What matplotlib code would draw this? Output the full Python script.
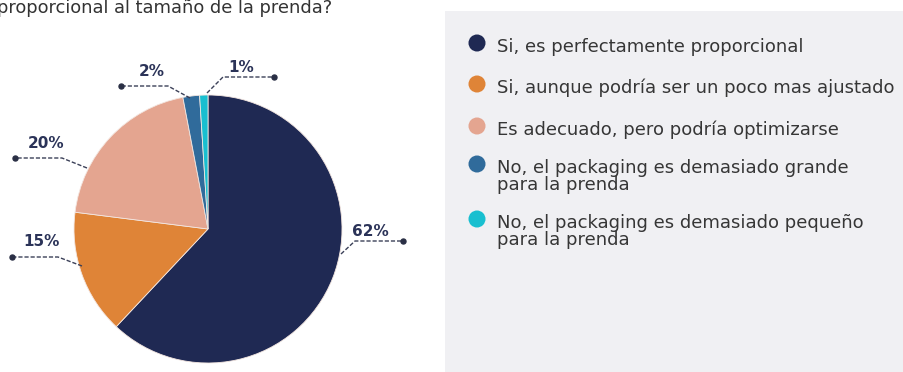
import matplotlib
matplotlib.use("Agg")
import matplotlib.pyplot as plt
from matplotlib.patches import Rectangle

# Survey answers and their shares (%)
categories = [
    "Si, es perfectamente proporcional",
    "Si, aunque podría ser un poco mas ajustado",
    "Es adecuado, pero podría optimizarse",
    "No, el packaging es demasiado grande\npara la prenda",
    "No, el packaging es demasiado pequeño\npara la prenda",
]
shares = [62, 15, 20, 2, 1]
colors = ["#1f2953", "#df8437", "#e4a590", "#306b9b", "#19bfd0"]
title_text = "proporcional al tamaño de la prenda?"

W, H = 904, 372
plt.rcParams["font.family"] = ["DejaVu Sans"]
fig = plt.figure(figsize=(W / 100, H / 100), dpi=100)
fig.patch.set_facecolor("white")

# Overlay in pixel coordinates (y downwards) for background, legend and leaders
ov = fig.add_axes([0, 0, 1, 1], zorder=1)
ov.set_xlim(0, W)
ov.set_ylim(H, 0)
ov.axis("off")
ov.patch.set_alpha(0)

# Light panel behind the legend
ov.add_patch(Rectangle((445, 11), W - 445 + 5, H, facecolor="#f0f0f3",
                       edgecolor="none", zorder=0))

# Pie
cx, cy, r = 208, 229, 134
pax = fig.add_axes([(cx - r) / W, (H - cy - r) / H, 2 * r / W, 2 * r / H], zorder=0)
pax.pie(shares, colors=colors, startangle=90, counterclock=False, radius=1,
        wedgeprops=dict(edgecolor="#f3e6e0", linewidth=0.6))
pax.set_xlim(-1, 1)
pax.set_ylim(-1, 1)
pax.set_aspect("equal")
pax.axis("off")

# Leader layout per slice: pie edge point, elbow, end dot, label centre
leaders = [
    ((341, 254), (355, 241), (403, 241), (370, 232)),
    ((82, 266), (58, 257), (12, 257), (42, 242)),
    ((87, 168), (62, 158), (15, 158), (46, 143)),
    ((190, 98), (168, 86), (121, 86), (152, 72)),
    ((207, 93), (223, 77), (274, 77), (241, 68)),
]
line_col = "#3b4058"
for val, (p0, p1, p2, tp) in zip(shares, leaders):
    ov.plot([p0[0], p1[0], p2[0]], [p0[1], p1[1], p2[1]], color=line_col,
            lw=1.0, ls=(0, (3, 1.4)), zorder=3)
    ov.plot([p2[0]], [p2[1]], "o", color="#2a2f45", ms=3.6, zorder=4)
    ov.text(tp[0], tp[1], f"{val}%", ha="center", va="center", fontsize=11,
            fontweight="bold", color="#2b3358", zorder=4)

# Legend
baselines = [52, 93, 135, 173, 228]
for lab, col, yb in zip(categories, colors, baselines):
    ov.scatter([477], [yb - 9], s=150, color=col, zorder=3, edgecolors="none")
    for i, line in enumerate(lab.split("\n")):
        ov.text(497, yb + i * 17, line, ha="left", va="baseline", fontsize=13,
                color="#363636", zorder=3)

# Question text at top
ov.text(-3, 13, title_text, ha="left", va="baseline", fontsize=12.9,
        color="#333333", zorder=3)

fig.savefig("out.png", dpi=100, facecolor="white")
